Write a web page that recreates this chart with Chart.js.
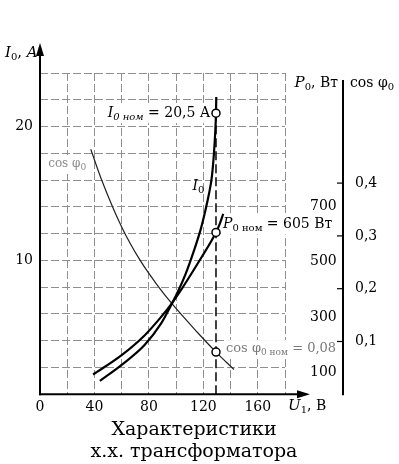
<!DOCTYPE html>
<html>
<head>
<meta charset="utf-8">
<script src="https://cdn.jsdelivr.net/npm/chart.js@4.4.1/dist/chart.umd.min.js"></script>
<style>
  html, body { margin: 0; background: #fff; }
  #wrap { width: 399px; height: 464px; }
</style>
</head>
<body>
<div id="wrap"><canvas id="c"></canvas></div>
<script>
// Values (U1 in volts)
const i0Volt = [44, 60, 77, 89, 95, 101, 107, 113, 118, 121.2, 124, 126.2, 127.8, 128.8, 129.3, 129.5];
const i0Amp = [1.0, 2.2, 3.7, 5.3, 6.4, 7.6, 9.0, 10.7, 12.3, 13.6, 14.9, 16.2, 18.0, 19.7, 21.0, 22.2];

const p0Volt = [39, 60, 77, 89, 97, 104, 112, 118, 126, 129.3, 132, 134.6];
const p0Watt = [92, 162, 234, 300, 350, 400, 462, 510, 575, 605, 635, 672];

const cosVolt = [37.3, 45.3, 60, 73.5, 86.7, 96.8, 115.4, 129.3, 142.5];
const cosPhi = [0.464, 0.406, 0.317, 0.254, 0.205, 0.172, 0.118, 0.08, 0.047];

// nominal point
const uNom = 129.3;
const i0Nom = 21.0;
const p0Nom = 605;
const cosNom = 0.08;

const pTicks = [100, 300, 500, 700];
const cosTicks = [0.1, 0.2, 0.3, 0.4];

const SERIF = '"DejaVu Serif", serif';
const toXY = (xs, ys) => xs.map((x, i) => ({ x: x, y: ys[i] }));

// draw a text made of several runs (italic letters, subscripts)
function drawRuns(ctx, x, y, parts, opt) {
  opt = opt || {};
  const fonts = parts.map(p => (p.i ? 'italic ' : '') + (p.s || 14) + 'px ' + SERIF);
  const widths = parts.map((p, k) => { ctx.font = fonts[k]; return ctx.measureText(p.t).width; });
  const total = widths.reduce((a, b) => a + b, 0);
  let cx = opt.align === 'right' ? x - total : x;
  if (opt.bg) {
    ctx.fillStyle = '#fff';
    ctx.fillRect(cx - 2, y - 9, total + 4, 19);
  }
  ctx.fillStyle = opt.color || '#000';
  ctx.textBaseline = 'middle';
  ctx.textAlign = 'left';
  parts.forEach((p, k) => {
    ctx.font = fonts[k];
    ctx.fillText(p.t, cx, y + (p.d || 0));
    cx += widths[k];
  });
}

const axisArt = {
  id: 'axisArt',
  beforeDatasetsDraw(chart) {
    const { ctx, scales } = chart;
    const xs = scales.x, ys = scales.y, ps = scales.p, cs = scales.cos;
    const ux = xs.getPixelForValue(uNom);
    ctx.save();
    drawRuns(ctx, ux - 6, ys.getPixelForValue(i0Nom), [
      { t: 'I', i: true }, { t: '0 ном', s: 10, i: true, d: 4 }, { t: ' = 20,5 A' }
    ], { align: 'right', bg: true });
    drawRuns(ctx, xs.getPixelForValue(112), ys.getPixelForValue(15.5), [
      { t: 'I', i: true }, { t: '0', s: 10, d: 4 }
    ]);
    drawRuns(ctx, ux + 7, ps.getPixelForValue(p0Nom) - 8, [
      { t: 'P', i: true }, { t: '0 ном', s: 10, d: 4 }, { t: ' = 605 Вт' }
    ], { bg: true });
    drawRuns(ctx, ux + 10, cs.getPixelForValue(cosNom) - 3, [
      { t: 'cos φ', s: 13 }, { t: '0 ном', s: 9, d: 4 }, { t: ' = 0,08', s: 13 }
    ], { color: '#7a7a7a', bg: true });
    drawRuns(ctx, xs.getPixelForValue(6), ys.getPixelForValue(17.2), [
      { t: 'cos φ', s: 12 }, { t: '0', s: 9, d: 4 }
    ], { color: '#8a8a8a', bg: true });
    ctx.restore();
  },
  afterDraw(chart) {
    const { ctx, chartArea: a, scales } = chart;
    const cs = scales.cos;
    ctx.save();
    ctx.strokeStyle = '#000';
    ctx.fillStyle = '#000';
    ctx.lineWidth = 2;
    // left axis with arrow
    const tipY = a.top - 30;
    ctx.beginPath();
    ctx.moveTo(a.left, a.bottom + 1);
    ctx.lineTo(a.left, tipY + 8);
    ctx.stroke();
    ctx.beginPath();
    ctx.moveTo(a.left, tipY);
    ctx.lineTo(a.left - 4, tipY + 13);
    ctx.lineTo(a.left + 4, tipY + 13);
    ctx.closePath();
    ctx.fill();
    // bottom axis with arrow
    const tipX = a.right + 25;
    ctx.beginPath();
    ctx.moveTo(a.left - 1, a.bottom);
    ctx.lineTo(tipX - 8, a.bottom);
    ctx.stroke();
    ctx.beginPath();
    ctx.moveTo(tipX, a.bottom);
    ctx.lineTo(tipX - 13, a.bottom - 4);
    ctx.lineTo(tipX - 13, a.bottom + 4);
    ctx.closePath();
    ctx.fill();
    // cos axis line with inward ticks
    ctx.beginPath();
    ctx.moveTo(cs.left, a.top + 7);
    ctx.lineTo(cs.left, a.bottom + 1);
    ctx.stroke();
    ctx.lineWidth = 1.2;
    cs.ticks.forEach(t => {
      const y = cs.getPixelForValue(t.value);
      ctx.beginPath();
      ctx.moveTo(cs.left - 6, y);
      ctx.lineTo(cs.left, y);
      ctx.stroke();
    });
    // axis names
    drawRuns(ctx, a.left - 35, a.top - 20, [
      { t: 'I', i: true, s: 15 }, { t: '0', s: 10, d: 4 }, { t: ', ', s: 15 }, { t: 'A', i: true, s: 15 }
    ]);
    drawRuns(ctx, cs.left - 5, a.top + 10, [
      { t: 'P', i: true, s: 15 }, { t: '0', s: 10, d: 4 }, { t: ', Вт', s: 14 }
    ], { align: 'right' });
    drawRuns(ctx, cs.left + 7, a.top + 10, [
      { t: 'cos φ', s: 14 }, { t: '0', s: 10, d: 4 }
    ]);
    drawRuns(ctx, a.right + 3, a.bottom + 12, [
      { t: 'U', i: true, s: 15 }, { t: '1', s: 10, d: 4 }, { t: ', В', s: 14 }
    ]);
    ctx.restore();
  }
};

const nomPoint = {
  showLine: false,
  pointRadius: 4,
  pointBackgroundColor: '#fff',
  pointBorderColor: '#000',
  pointBorderWidth: 1.5
};

const gridStyle = { color: '#8f8f8f', lineWidth: 1, drawTicks: false };
const tickFont = { family: SERIF, size: 14 };

new Chart(document.getElementById('c'), {
  type: 'line',
  data: {
    datasets: [
      Object.assign({ data: [{ x: uNom, y: i0Nom }], yAxisID: 'y' }, nomPoint),
      Object.assign({ data: [{ x: uNom, y: p0Nom }], yAxisID: 'p' }, nomPoint),
      Object.assign({ data: [{ x: uNom, y: cosNom }], yAxisID: 'cos' }, nomPoint),
      {
        label: 'I0',
        data: toXY(i0Volt, i0Amp),
        yAxisID: 'y',
        borderColor: '#000',
        borderWidth: 2.2,
        pointRadius: 0,
        cubicInterpolationMode: 'monotone'
      },
      {
        label: 'P0',
        data: toXY(p0Volt, p0Watt),
        yAxisID: 'p',
        borderColor: '#000',
        borderWidth: 2.2,
        pointRadius: 0,
        cubicInterpolationMode: 'monotone'
      },
      {
        label: 'cos φ0',
        data: toXY(cosVolt, cosPhi),
        yAxisID: 'cos',
        borderColor: '#222',
        borderWidth: 1.2,
        pointRadius: 0,
        cubicInterpolationMode: 'monotone'
      },
      {
        data: [{ x: uNom, y: 0 }, { x: uNom, y: i0Nom }],
        yAxisID: 'y',
        borderColor: '#000',
        borderWidth: 1.5,
        borderDash: [9, 4],
        pointRadius: 0
      }
    ]
  },
  options: {
    animation: false,
    responsive: true,
    maintainAspectRatio: false,
    layout: { padding: { top: 73, left: 0, right: 11, bottom: 1 } },
    plugins: {
      legend: { display: false },
      tooltip: { enabled: false },
      title: {
        display: true,
        position: 'bottom',
        text: ['Характеристики', 'х.х. трансформатора'],
        color: '#000',
        font: { family: SERIF, size: 19, weight: 'normal', lineHeight: 1.15 },
        padding: 0
      }
    },
    scales: {
      x: {
        type: 'linear',
        min: 0,
        max: 180,
        ticks: {
          stepSize: 20,
          autoSkip: false,
          maxRotation: 0,
          padding: 5,
          color: '#000',
          font: tickFont,
          callback: v => (v % 40 === 0 ? v : '')
        },
        grid: gridStyle,
        border: { display: false, dash: [8, 3] },
        afterFit: s => { s.height = 25; }
      },
      y: {
        position: 'left',
        min: 0,
        max: 24,
        ticks: {
          stepSize: 2,
          padding: 7,
          color: '#000',
          font: tickFont,
          callback: v => (v === 10 || v === 20 ? v : '')
        },
        grid: gridStyle,
        border: { display: false, dash: [8, 3] },
        afterFit: s => { s.width = 40; }
      },
      p: {
        position: 'right',
        weight: 0,
        min: 20.6,
        max: 1180.6,
        grid: { display: false },
        border: { display: false },
        ticks: { padding: 17, color: '#000', font: tickFont },
        afterBuildTicks: s => { s.ticks = pTicks.map(v => ({ value: v })); },
        afterFit: s => { s.width = 58; }
      },
      cos: {
        position: 'right',
        weight: 1,
        min: 0,
        max: 0.6085,
        grid: { display: false },
        border: { display: false },
        ticks: {
          padding: 4,
          color: '#000',
          font: tickFont,
          callback: v => v.toFixed(1).replace('.', ',')
        },
        afterBuildTicks: s => { s.ticks = cosTicks.map(v => ({ value: v })); },
        afterFit: s => { s.width = 45; }
      }
    }
  },
  plugins: [axisArt]
});
</script>
</body>
</html>
